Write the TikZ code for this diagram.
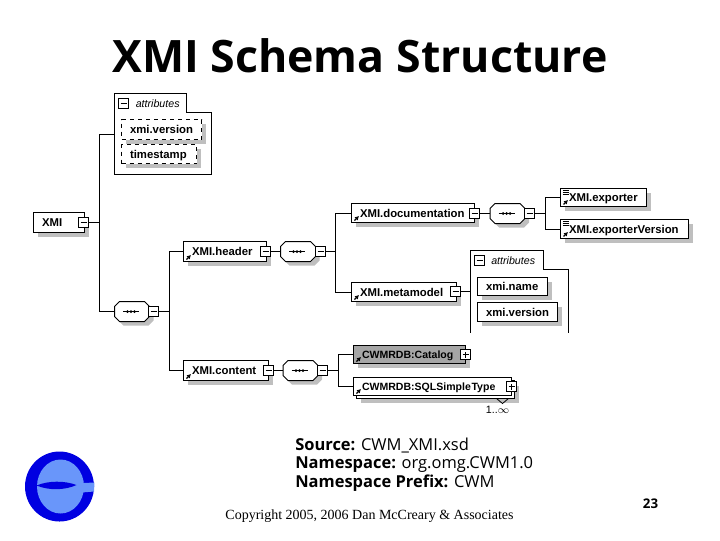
\documentclass[tikz,border=0pt]{standalone}
\usepackage{fontspec}
\setmainfont{Liberation Sans}
\newfontfamily\headfont{Open Sans}
\newfontfamily\copyfont{Liberation Serif}
\usetikzlibrary{arrows.meta,shadows}
\definecolor{ringblue}{RGB}{0,0,225}
\definecolor{paleblue}{RGB}{105,150,250}
\tikzset{
	wire/.style={draw=black,line width=.75pt},
	dropgray/.style={drop shadow={shadow xshift=3pt,shadow yshift=-3pt,fill=black!25,opacity=1}},
	flatelem/.style={draw=black,line width=.75pt,fill=white,outer sep=0pt,anchor=north west,inner ysep=0pt,inner xsep=6.4pt,
		align=left,font=\bfseries\fontsize{8.5}{9}\selectfont,text height=6pt,text depth=0pt},
	elem/.style={flatelem,dropgray},
	small/.style={font=\bfseries\fontsize{7.9}{9}\selectfont},
	wide/.style={text width={(#1)*.75pt-12.8pt}},
	high/.style={minimum height={(#1)*.75pt}},
	dashedelem/.style={elem,dashed},
	toggle/.style={draw=black,line width=.75pt,fill=white,outer sep=0pt,minimum size=7.5pt,inner sep=0pt,
		path picture={\draw[line width=.75pt] ([xshift=1.5pt]path picture bounding box.west) -- ([xshift=-1.5pt]path picture bounding box.east);}},
	seq/.style={outer sep=0pt,inner sep=0pt,minimum width=26.25pt,minimum height=15pt},
	attr/.style={font=\itshape\fontsize{8}{9}\selectfont,anchor=west,inner sep=0pt},
	body/.style={anchor=west,inner sep=0pt,font=\headfont\fontsize{12.35}{14}\selectfont},
}
\newcommand{\refmark}[1]{\draw[line width=1pt,-{Latex[length=3pt,width=3.5pt]}] ([shift={(3,-2)}]#1.south west) -- ++(4.5,-4.5)}
\newcommand{\notemark}[1]{\draw[line width=.5pt] ([shift={(2,2)}]#1.north west) -- ++(6,0) ([shift={(2,4)}]#1.north west) -- ++(6,0) ([shift={(2,6)}]#1.north west) -- ++(6,0)}
\newcommand{\plusbar}[1]{\draw[line width=.75pt] ([yshift=1.5pt]#1.south) -- ([yshift=-1.5pt]#1.north)}
\newcommand{\octa}{(-17.5,-5) -- (-12.5,-10) -- (12.5,-10) -- (17.5,-5) -- (17.5,5) -- (12.5,10) -- (-12.5,10) -- (-17.5,5) -- cycle}
\newcommand{\seqmark}[2]{\fill[black!25,shift={(#2)},shift={(4,4)}] \octa;
	\draw[line width=.75pt,fill=white,shift={(#2)}] \octa;
	\draw[line width=.75pt,shift={(#2)}] (-9,0) -- (7,0);
	\fill[shift={(#2)}] (-4.5,0) circle (1.5) (-1,0) circle (1.5) (2.5,0) circle (1.5);
	\node[seq] (#1) at (#2) {}}

\begin{document}
\begin{tikzpicture}[x=.75pt,y=-.75pt,shift={(.5,.5)}]
	\useasboundingbox (-.5,-.5) rectangle (719.5,539.5);
	\node[anchor=base,inner sep=0pt,font=\headfont\bfseries\fontsize{33.5}{40}\selectfont] (title) at (359.5,72) {XMI Schema Structure};

	% root
	\node[elem,wide=51,high=20] (xmi) at (33,212) {XMI};
	\node[toggle] (xmiT) at (83,222) {};
	\coordinate (rootbus) at (99,222);
	\coordinate (attrA) at (114,134);

	% first attributes panel
	\draw[line width=.75pt,fill=white] (114,174) -- (114,93) -- (186,93) -- (186,112) -- (211,112) -- (211,174) -- cycle;
	\node[toggle] (attrAT) at (123,103) {};
	\node[attr] (attrAL) at (135,103) {attributes};
	\node[dashedelem,wide=80,high=20] (version) at (121,119) {xmi.version};
	\node[dashedelem,wide=75,high=19] (stamp) at (121,144) {timestamp};

	% sequence under the root
	\seqmark{seqA}{131.5,311};
	\node[toggle] (seqAT) at (153,311) {};
	\coordinate (seqbus) at (169,311);

	% header
	\node[elem,wide=83,high=20] (header) at (183,241) {XMI.header};
	\node[toggle] (headerT) at (265,251) {};
	\seqmark{seqB}{297.5,251};
	\node[toggle] (seqBT) at (320,251) {};
	\coordinate (headbus) at (335,251);

	% documentation
	\node[elem,wide=123,high=19] (docu) at (351,203) {XMI.documentation};
	\node[toggle] (docuT) at (474,213) {};
	\seqmark{seqC}{507,213};
	\node[toggle] (seqCT) at (529,213) {};
	\coordinate (docbus) at (545,213);
	\node[elem,wide=86,high=18] (exporter) at (560,188) {XMI.exporter};
	\node[elem,wide=128,high=19] (exportver) at (560,219) {XMI.exporterVersion};

	% metamodel
	\node[elem,wide=105,high=19] (meta) at (351,282) {XMI.metamodel};
	\node[toggle] (metaT) at (455,291) {};
	\coordinate (attrB) at (470,291);
	\draw[line width=.75pt] (470,332) -- (470,250) -- (543,250) -- (543,269) -- (568,269) -- (568,332);
	\node[toggle] (attrBT) at (479,260) {};
	\node[attr] (attrBL) at (490.5,260) {attributes};
	\node[elem,wide=70,high=18] (name) at (477,277) {xmi.name};
	\node[elem,wide=80,high=19] (versionB) at (477,302) {xmi.version};

	% content
	\node[elem,wide=85,high=20] (content) at (183,360) {XMI.content};
	\node[toggle] (contentT) at (268,370) {};
	\seqmark{seqD}{300,370};
	\node[toggle] (seqDT) at (322,370) {};
	\coordinate (contbus) at (338,370);
	\node[elem,small,wide=112,high=18,fill=black!35] (catalog) at (353,345) {CWMRDB:Catalog};
	\node[toggle] (catalogT) at (465,354) {};
	\plusbar{catalogT};
	\fill[black!25] (360,385) rectangle (518,402);
	\draw[line width=.75pt,fill=white] (356,380) rectangle (514,398);
	\draw[line width=.6pt] (496,398) -- (502,403) -- (508,398);
	\node[flatelem,small,wide=158,high=18] (simple) at (353,377) {CWMRDB:SQLSimple\kern.5pt Type};
	\node[toggle] (simpleT) at (511,386) {};
	\plusbar{simpleT};
	\node[inner sep=0pt,font=\fontsize{8}{9}\selectfont] (occurs) at (497,409) {1..$\infty$};

	% connectors
	\draw[wire] (xmiT) -- (rootbus);
	\draw[wire] (attrA) -| (rootbus);
	\draw[wire] (rootbus) |- (seqA);
	\draw[wire] (seqAT) -- (seqbus);
	\draw[wire] (header) -| (seqbus);
	\draw[wire] (content) -| (seqbus);
	\draw[wire] (headerT) -- (seqB);
	\draw[wire] (seqBT) -- (headbus);
	\draw[wire] (docu) -| (headbus);
	\draw[wire] (meta) -| (headbus);
	\draw[wire] (docuT) -- (seqC);
	\draw[wire] (seqCT) -- (docbus);
	\draw[wire] (exporter.west) -| (docbus);
	\draw[wire] (exportver.west) -| (docbus);
	\draw[wire] (metaT) -- (attrB);
	\draw[wire] (contentT) -- (seqD);
	\draw[wire] (seqDT) -- (contbus);
	\draw[wire] (catalog.west) -| (contbus);
	\draw[wire] (simple.west) -| (contbus);

	% link and note marks
	\refmark{header};
	\refmark{docu};
	\refmark{exporter};
	\refmark{exportver};
	\refmark{meta};
	\refmark{content};
	\refmark{catalog};
	\refmark{simple};
	\notemark{exporter};
	\notemark{exportver};

	% logo
	\fill[ringblue] (59,486) ellipse (34.5 and 35);
	\fill[paleblue] (60,486) ellipse (23.5 and 27);
	\fill[paleblue] (72,483) -- (94,482) -- (93.5,491) -- (81,492) -- (76,497) -- cycle;
	\fill[ringblue] (36,485) .. controls (48,480) and (64,480) .. (76,484.5) .. controls (64,490) and (48,490) .. (36,485);

	% footer
	\node[body] (source) at (294.5,445) {\textbf{Source:} CWM\_XMI.xsd};
	\node[body] (space) at (294.5,464) {\textbf{Namespace:} org.omg.CWM1.0};
	\node[body] (prefix) at (294.5,483) {\textbf{Namespace Prefix:} CWM};
	\node[inner sep=0pt,font=\copyfont\fontsize{10.5}{12}\selectfont] (copyright) at (369,516) {Copyright 2005, 2006 Dan McCreary \& Associates};
	\node[inner sep=0pt,font=\headfont\bfseries\fontsize{10}{12}\selectfont] (page) at (650,503) {23};
\end{tikzpicture}
\end{document}
